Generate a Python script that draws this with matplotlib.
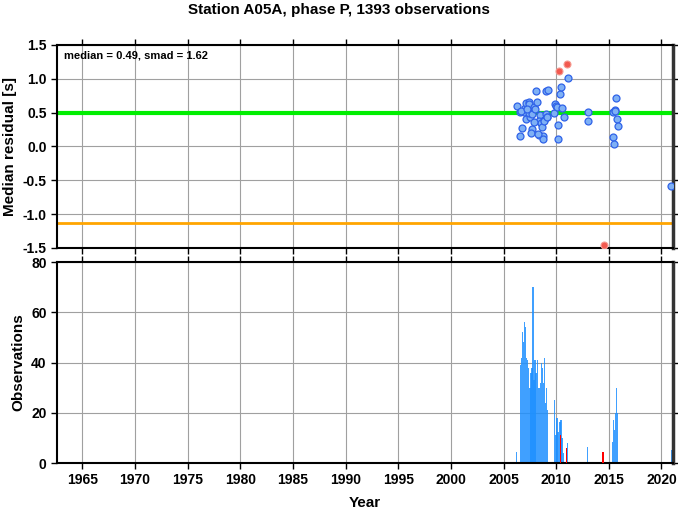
"""
Station residual summary, A05A phase P.
"""
import matplotlib
matplotlib.use('Agg')
import matplotlib.pyplot as plt
import numpy as np

plt.rcParams['font.family'] = ['Liberation Sans', 'DejaVu Sans']
plt.rcParams['font.weight'] = 'bold'

# == Median residuals (decimal year, seconds) == #
good_year = [2006.27, 2006.6, 2006.94, 2007.0, 2007.15, 2007.45, 2007.4, 2007.1,
             2007.47, 2007.44, 2007.75, 2007.85, 2008.0, 2008.1, 2008.2, 2006.78,
             2006.6, 2007.7, 2007.6, 2008.33, 2008.77, 2008.74, 2008.45, 2008.36,
             2008.58, 2008.65, 2008.87, 2009.03, 2009.15, 2009.03, 2009.2, 2009.9,
             2010.0, 2009.84, 2010.1, 2010.55, 2010.74, 2010.13, 2010.22, 2010.35,
             2010.45, 2011.14, 2013.05, 2013.0, 2015.35, 2015.58, 2015.6, 2015.67,
             2015.77, 2015.87, 2015.35, 2015.5, 2020.9, 2006.7, 2008.3, 2008.86,
             2009.17, 2007.2, 2007.9]
good_res = [0.60, 0.51, 0.51, 0.57, 0.64, 0.65, 0.63, 0.40,
            0.43, 0.49, 0.48, 0.59, 0.55, 0.82, 0.66, 0.28,
            0.15, 0.26, 0.20, 0.17, 0.15, 0.11, 0.47, 0.38,
            0.34, 0.29, 0.39, 0.48, 0.44, 0.82, 0.84, 0.63,
            0.60, 0.49, 0.58, 0.57, 0.43, 0.31, 0.11, 0.78,
            0.88, 1.01, 0.51, 0.37, 0.51, 0.54, 0.53, 0.71,
            0.41, 0.30, 0.14, 0.03, -0.59, 0.52, 0.18, 0.38,
            0.44, 0.55, 0.36]
bad_year = [2010.3, 2011.05, 2014.5]
bad_res = [1.11, 1.22, -1.45]

median, smad = 0.49, 1.62

# == Observation counts per bin == #
obs_year = [2006.25, 2006.6, 2006.7, 2006.8, 2006.9, 2007.0, 2007.1, 2007.2, 2007.3,
            2007.4, 2007.5, 2007.6, 2007.7, 2007.8, 2007.9, 2008.0, 2008.1, 2008.2,
            2008.3, 2008.4, 2008.5, 2008.6, 2008.7, 2008.8, 2008.9, 2009.0, 2009.1,
            2009.2, 2009.87, 2009.97, 2010.07, 2010.17, 2010.37, 2010.47, 2010.57,
            2010.67, 2011.1, 2013.0, 2015.35, 2015.45, 2015.55, 2015.65, 2015.75,
            2015.85, 2021.0]
obs_count = [4.5, 39, 42, 52, 48, 56, 54, 42, 41, 38, 30, 36, 38, 70, 33, 41, 36, 41,
             30, 30, 32, 40, 38, 32, 42, 24, 30, 21, 25, 11, 18, 12.5, 16.5, 17, 10,
             4, 8, 6.5, 8.5, 17, 13, 20, 30, 20, 5]
out_year = [2010.38, 2011.0, 2014.45]
out_count = [11, 6, 4.5]

xlim = (1962.6, 2021.1)

fig = plt.figure(figsize=(6.78, 5.11), dpi=100)
ax1 = fig.add_axes([0.0841, 0.5147, 0.9086, 0.3973])
ax2 = fig.add_axes([0.0841, 0.0939, 0.9086, 0.3933])

fig.suptitle('Station A05A, phase P, 1393 observations', x=0.5, y=0.980,
             va='center', fontsize=11, fontweight='bold')

# == Residual panel == #
ax1.axhline(median, color='#00ee00', lw=3, zorder=2)
ax1.axhline(median - smad, color='#ffa500', lw=2, zorder=2)
ax1.plot(good_year, good_res, 'o', ms=5, mfc='#7eb0f5', mec='#2f62e8',
         mew=0.9, zorder=3)
ax1.plot(bad_year, bad_res, 'o', ms=5, mfc='#f25a50', mec='#f59a90',
         mew=0.8, zorder=3)
ax1.set_ylim(-1.5, 1.5)
ax1.set_yticks(np.arange(-1.5, 1.51, 0.5))
ax1.set_yticklabels(['{:.1f}'.format(v) for v in np.arange(-1.5, 1.51, 0.5)])
ax1.set_ylabel('Median residual [s]', fontsize=11, fontweight='bold')
ax1.text(0.012, 0.975, 'median = {:.2f}, smad = {:.2f}'.format(median, smad),
         transform=ax1.transAxes, ha='left', va='top', fontsize=8,
         fontweight='bold')
ax1.tick_params(labelbottom=False)

# == Histogram panel == #
ax2.bar(obs_year, obs_count, width=0.13, color='#1e90ff', alpha=0.85,
        align='center', linewidth=0, zorder=2)
ax2.bar(out_year, out_count, width=0.1, color='red', linewidth=0, zorder=3)
ax2.set_ylim(0, 80)
ax2.set_yticks([0, 20, 40, 60, 80])
ax2.set_ylabel('Observations', fontsize=11, fontweight='bold')
ax2.set_xlabel('Year', fontsize=11, fontweight='bold', labelpad=6)

for ax in (ax1, ax2):
    ax.set_xlim(*xlim)
    ax.set_xticks(np.arange(1965, 2021, 5))
    ax.grid(True, color='#a0a0a0', lw=0.8, zorder=0)
    ax.set_axisbelow(True)
    ax.tick_params(direction='out', length=4, width=1, labelsize=10,
                   right=True, top=True)
    for lab in ax.get_xticklabels() + ax.get_yticklabels():
        lab.set_fontweight('bold')
    for side in ('left', 'bottom', 'top'):
        ax.spines[side].set_linewidth(1.5)
    ax.spines['right'].set_linewidth(2.5)
    ax.spines['right'].set_color('#333333')

fig.savefig('out.png', dpi=100)
